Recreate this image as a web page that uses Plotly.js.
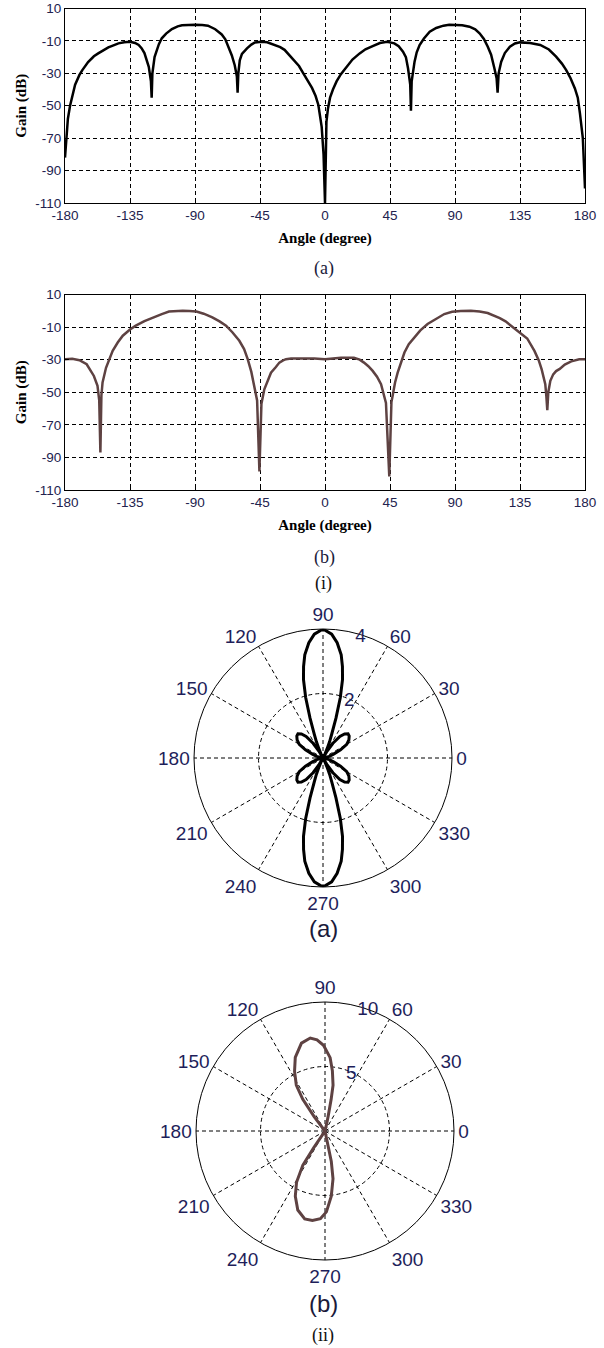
<!DOCTYPE html>
<html>
<head>
<meta charset="utf-8">
<script src="https://cdn.plot.ly/plotly-3.0.1.min.js"></script>
<style>
html,body{margin:0;padding:0;background:#fff;}
#chart{width:604px;height:1348px;}
</style>
</head>
<body>
<div id="chart"></div>
<script>
// ---------- data: gain pattern (a), dB vs angle ----------
const angleA = [
  -180,-179,-178,-176.5,-175,-173,-170,-168,-164,-160,
  -157,-150,-146,-143,-139,-135,-131.5,-129,-127,-125,
  -122,-120.5,-120,-119.5,-118,-117,-115,-113,-110,-106,
  -102,-99,-95,-90,-85,-81,-76,-71.5,-69,-67,
  -64.5,-62.5,-61,-60.5,-60,-59,-57.5,-54,-51,-48.5,
  -44,-40,-35,-31,-28,-22,-18,-15,-12,-9,
  -6.5,-4.6,-2.3,-1,0,1,2,3.5,5.5,8,
  11,15,19,24,28,33,38,43,48,51,
  54,56,57.5,59,59.5,60,61,62,63.5,65.5,
  68.5,72.5,77,82,86,90,95,100,104,107,
  110,112.7,115,117.3,118.8,119.5,120.2,122,124.5,128,
  131.5,135,142,149,155,160,164,167,170,173,
  175,176.5,178.5,180];
const gainA = [
  -82,-70,-58,-50,-45,-37,-31,-28,-23,-19.5,
  -17.7,-14,-12.6,-11.5,-10.8,-10.5,-11.3,-12.5,-14.5,-17.5,
  -26,-35,-45,-30,-20,-17,-12,-8.4,-5.5,-2.7,
  -1.0,-0.3,0,0,-0.2,-0.6,-2.8,-6,-9,-13.6,
  -19,-25,-32,-42,-30,-22,-18,-14.6,-12.3,-11,
  -10.5,-10.8,-12.3,-13.8,-15.5,-21.5,-25.5,-30,-34.5,-39,
  -44,-49.5,-63,-80,-110,-60,-52,-45,-40,-35,
  -30.5,-26,-21.5,-17.7,-15.2,-13.2,-11.3,-10.5,-11.5,-13.3,
  -16.6,-20,-27,-37,-53,-35,-27,-22.8,-17,-12.5,
  -8.5,-4.3,-2,-0.6,-0.1,0,-0.3,-1.2,-2.8,-5.3,
  -8.8,-13.6,-18.5,-27,-33,-42,-30,-22.8,-17.5,-13.6,
  -11.6,-10.9,-11.3,-12.5,-15.3,-19.7,-24,-28,-33,-39.3,
  -45,-54.7,-70,-101];

// ---------- data: gain pattern (b), dB vs angle ----------
const angleB = [
  -180,-175,-170,-165,-160,-157.5,-156.3,-155.5,-154.8,-154,
  -151.6,-149,-147,-143.5,-140,-135,-131,-125,-119,-113,
  -108,-103,-98.5,-94,-89,-84,-78,-73,-68.5,-64,
  -59.3,-56,-53.5,-51,-49,-47,-45.4,-44,-42,-39.5,
  -37.4,-34,-31.6,-29,-27,-23.5,-15,-7.4,0,6,
  11,20,24,27,30,33,36,38.8,42.2,44.5,
  46,46.8,48.5,50.3,52.5,55,58,62,66,71,
  77,82.6,88,94,101,107,112.6,117,121,125,
  128.8,132,135,140,145,148,150,152.5,153.2,153.9,
  154.6,156,158,160,162.5,166,170.5,176,180];
const gainB = [
  -29.7,-29.5,-30.3,-32.8,-40,-46,-55,-87,-52,-44,
  -35,-29.5,-24.6,-19.5,-15.3,-11.5,-9.1,-6.3,-4,-2,
  -0.5,0,0,-0.1,-0.4,-1.8,-4,-6.5,-9.1,-13.3,
  -18.4,-23.5,-29.7,-37.5,-46.2,-55,-98.6,-57,-48.2,-42.5,
  -38,-34.5,-31.8,-30.5,-29.7,-29.3,-29.2,-29.3,-29.7,-29.1,
  -28.9,-28.9,-30,-31.8,-34,-36.9,-40.5,-45.1,-56.5,-101.7,
  -56,-52.3,-44,-38,-31.5,-25.6,-20.5,-16.3,-12,-8.1,
  -4.8,-2,-0.6,-0.1,0,-0.4,-1.4,-2.8,-4.5,-6.5,
  -9.1,-11,-13,-17,-24.6,-30.5,-36,-45,-52,-61,
  -50,-43,-39,-37,-35.7,-33,-31,-29.7,-29.7];

// ---------- data: polar pattern (a), linear amplitude ----------
const thetaPA = [0,10,15,20,25,30,35,40,44,48,52,56,59,62,64,66,68,70,72,74,76,78,80,83,86,90,94,97,100,102,104,106,108,110,112,114,116,118,121,124,128,132,136,140,145,150,155,160,165,170,180,190,195,200,205,210,215,220,224,228,232,236,239,242,244,246,248,250,252,254,256,258,260,263,266,270,274,277,280,282,284,286,288,290,292,294,296,298,301,304,308,312,316,320,325,330,335,340,345,350,360];
const rPA     = [0,0.1,0.2,0.35,0.6,0.85,0.98,1.06,1.08,1.0,0.85,0.55,0.25,0,0.15,0.3,0.55,0.8,1.3,1.95,2.5,2.9,3.25,3.6,3.85,4,3.85,3.6,3.25,2.9,2.5,1.95,1.3,0.8,0.55,0.3,0.15,0,0.25,0.55,0.85,1.0,1.08,1.06,0.98,0.85,0.6,0.35,0.2,0.1,0,0.1,0.2,0.35,0.6,0.85,0.98,1.06,1.08,1.0,0.85,0.55,0.25,0,0.15,0.3,0.55,0.8,1.3,1.95,2.5,2.9,3.25,3.6,3.85,4,3.85,3.6,3.25,2.9,2.5,1.95,1.3,0.8,0.55,0.3,0.15,0,0.25,0.55,0.85,1.0,1.08,1.06,0.98,0.85,0.6,0.35,0.2,0.1,0];

// ---------- data: polar pattern (b), linear amplitude ----------
const thetaPB = [0,75,77,78,79,80,83,86,91,95,99,105,112,117,122,125,127,130,180,233,236,237,241,245.5,251,257,262,267,271,275.5,279.5,281.7,284,360];
const rPB     = [0,0,0.6,1.2,2.5,3.6,4.7,5.7,6.65,7.1,7.3,7.05,6.15,5.2,4.2,3.0,1.4,0,0,0,1.55,3.15,4.55,5.55,6.48,6.99,7.0,6.81,6.27,5.08,3.76,2.41,0,0];

// ---------- tick labels ----------
const xTicks = [-180,-135,-90,-45,0,45,90,135,180];
const yTicks = [-110,-90,-70,-50,-30,-10,10];
const polarAngles = [0,30,60,90,120,150,180,210,240,270,300,330];
const polarAngleLabels = ["0","30","60","90","120","150","180","210","240","270","300","330"];
const radialTicksA = [2,4];
const radialTicksB = [5,10];

// ---------- styling ----------
const W = 604, H = 1348;
const px = v => v / W;
const py = v => 1 - v / H;
const tickColor = '#22224e';
const polarLabelColor = '#1e1e5a';
const brown = '#5e4242';
const sans = 'Liberation Sans, Arial, sans-serif';
const serif = 'Liberation Serif, Times New Roman, serif';
const RADIAL_ANGLE = 80;

function cartAxisX(anchor) {
  return {
    domain: [px(65), px(585)], anchor: anchor, range: [-180, 180],
    tickmode: 'array', tickvals: xTicks, ticktext: xTicks.map(String),
    showgrid: true, gridcolor: '#000', gridwidth: 1, griddash: '4px,3px',
    showline: true, linecolor: '#000', linewidth: 1, mirror: true,
    ticks: 'inside', ticklen: 4, tickcolor: '#000',
    zeroline: false,
    tickfont: {family: sans, size: 13.5, color: tickColor},
    title: {text: 'Angle (degree)', font: {family: serif, size: 15, color: '#000', weight: 'bold'}, standoff: 10}
  };
}
function cartAxisY(anchor, dom) {
  return {
    domain: dom, anchor: anchor, range: [-110, 10],
    tickmode: 'array', tickvals: yTicks, ticktext: yTicks.map(String),
    showgrid: true, gridcolor: '#000', gridwidth: 1, griddash: '4px,3px',
    showline: true, linecolor: '#000', linewidth: 1, mirror: true,
    ticks: 'inside', ticklen: 4, tickcolor: '#000',
    zeroline: false,
    tickfont: {family: sans, size: 13.5, color: tickColor},
    title: {text: 'Gain (dB)', font: {family: serif, size: 15, color: '#000', weight: 'bold'}, standoff: 5}
  };
}
function polarCfg(cx, cy, R, rmax, rticks) {
  return {
    domain: {x: [px(cx - R), px(cx + R)], y: [py(cy + R), py(cy - R)]},
    bgcolor: '#fff',
    angularaxis: {
      rotation: 0, direction: 'counterclockwise',
      tickmode: 'array', tickvals: polarAngles, ticktext: polarAngleLabels,
      showline: true, linecolor: '#000', linewidth: 1,
      showgrid: true, gridcolor: '#000', gridwidth: 1, griddash: '4px,3px',
      ticks: '', tickfont: {family: sans, size: 19, color: polarLabelColor}
    },
    radialaxis: {
      range: [0, rmax], angle: RADIAL_ANGLE, side: 'clockwise', tickangle: RADIAL_ANGLE,
      tickmode: 'array', tickvals: rticks, ticktext: rticks.map(String),
      showline: false, ticks: '',
      showgrid: true, gridcolor: '#000', gridwidth: 1, griddash: '4px,3px',
      tickfont: {family: sans, size: 19, color: polarLabelColor}
    }
  };
}

const traces = [
  {x: angleA, y: gainA, xaxis: 'x', yaxis: 'y', type: 'scatter', mode: 'lines',
   line: {color: '#000', width: 2.5}, hoverinfo: 'skip'},
  {x: angleB, y: gainB, xaxis: 'x2', yaxis: 'y2', type: 'scatter', mode: 'lines',
   line: {color: brown, width: 2.5}, hoverinfo: 'skip'},
  {type: 'scatterpolar', subplot: 'polar', theta: thetaPA, r: rPA, mode: 'lines',
   line: {color: '#000', width: 3}, hoverinfo: 'skip'},
  {type: 'scatterpolar', subplot: 'polar2', theta: thetaPB, r: rPB, mode: 'lines',
   line: {color: brown, width: 3}, hoverinfo: 'skip'}
];

function label(text, x, y, font, size, color) {
  return {text: text, x: px(x), y: py(y), xref: 'paper', yref: 'paper',
          xanchor: 'center', yanchor: 'middle', showarrow: false,
          font: {family: font, size: size, color: color || '#111'}};
}

const layout = {
  width: W, height: H,
  margin: {l: 0, r: 0, t: 0, b: 0},
  paper_bgcolor: '#fff', plot_bgcolor: '#fff',
  showlegend: false,
  xaxis: cartAxisX('y'),
  yaxis: cartAxisY('x', [py(203), py(8.5)]),
  xaxis2: cartAxisX('y2'),
  yaxis2: cartAxisY('x2', [py(490), py(294.5)]),
  polar: polarCfg(323, 758, 129, 4, radialTicksA),
  polar2: polarCfg(325, 1131, 129, 10, radialTicksB),
  annotations: [
    label('(a)', 324, 268, serif, 18, '#1a1a3a'),
    label('(b)', 324, 557, serif, 18, '#1a1a3a'),
    label('(i)', 323, 583, serif, 18, '#111'),
    label('(a)', 323, 928, sans, 24, '#1a1a3a'),
    label('(b)', 323, 1303, sans, 24, '#1a1a3a'),
    label('(ii)', 323, 1335, serif, 18, '#111')
  ]
};

Plotly.newPlot('chart', traces, layout, {displayModeBar: false, staticPlot: true});
</script>
</body>
</html>
